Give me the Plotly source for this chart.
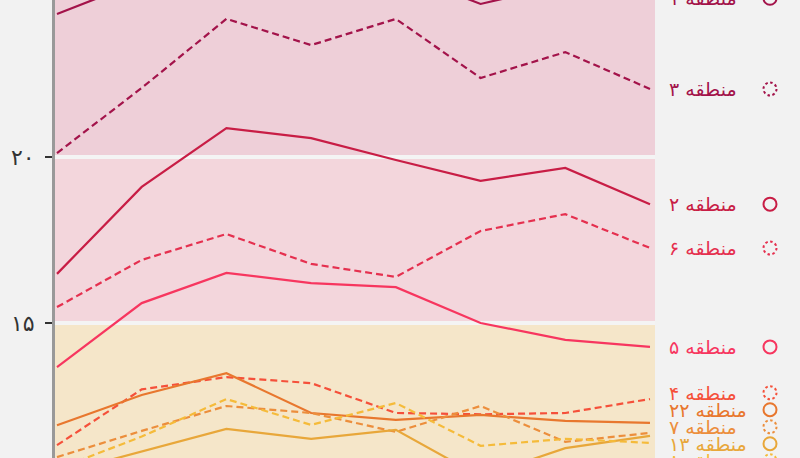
import plotly.graph_objects as go

# ---------------- data ----------------
periods = [0, 1, 2, 3, 4, 5, 6, 7]

region_1 = [24.31, 25.30, 26.20, 25.90, 25.60, 24.61, 25.20, 24.78]
region_3 = [20.12, 22.08, 24.16, 23.37, 24.16, 22.38, 23.16, 22.05]
region_2 = [16.48, 19.10, 20.87, 20.57, 19.91, 19.28, 19.67, 18.58]
region_6 = [15.48, 16.90, 17.68, 16.78, 16.39, 17.77, 18.28, 17.26]
region_5 = [13.67, 15.60, 16.51, 16.20, 16.08, 15.00, 14.49, 14.28]
region_4 = [11.32, 13.00, 13.37, 13.19, 12.29, 12.25, 12.29, 12.71]
region_22 = [11.92, 12.83, 13.49, 12.29, 12.08, 12.23, 12.05, 11.99]
region_7 = [10.96, 11.75, 12.50, 12.29, 11.72, 12.50, 11.42, 11.69]
region_13 = [10.45, 11.13, 11.81, 11.51, 11.78, 10.37, 11.23, 11.60]
region_8 = [10.60, 11.58, 12.71, 11.93, 12.59, 11.30, 11.51, 11.39]

labels = ["منطقه ۱", "منطقه ۳", "منطقه ۲", "منطقه ۶", "منطقه ۵",
          "منطقه ۴", "منطقه ۲۲", "منطقه ۷", "منطقه ۱۳", "منطقه ۸"]
values = [region_1, region_3, region_2, region_6, region_5,
          region_4, region_22, region_7, region_13, region_8]
dashed = [False, True, False, True, False, True, False, True, False, True]
colors = ["#a3134a", "#a3134a", "#c81d45", "#e5304f", "#f7365f",
          "#f5503a", "#e8772e", "#ec8e3c", "#e8a73a", "#f5bb3a"]

tick_vals = [10, 15, 20, 25]
tick_text = ["۱۰", "۱۵", "۲۰", "۲۵"]

band_edges = [0, 15, 20, 40]
band_colors = ["#f5e6c9", "#f3d6dc", "#eecfd8"]

# ---------------- layout constants ----------------
W, H = 800, 458
ML, MR = 55, 145
PW = W - ML - MR
Y_MIN, Y_MAX = 10.934, 24.729
X_MIN, X_MAX = -0.0236, 7.059
FONT = "DejaVu Sans"


def spread(vals, gap):
    order = sorted(range(len(vals)), key=lambda i: -vals[i])
    pos = [vals[i] for i in order]
    for _ in range(2000):
        moved = False
        for k in range(len(pos) - 1):
            d = pos[k] - pos[k + 1]
            if d < gap - 1e-9:
                s = (gap - d) / 2
                pos[k] += s
                pos[k + 1] -= s
                moved = True
        if not moved:
            break
    out = [0.0] * len(vals)
    for k, i in enumerate(order):
        out[i] = pos[k]
    return out


fig = go.Figure()

for name, ys, dsh, col in zip(labels, values, dashed, colors):
    fig.add_trace(go.Scatter(
        x=periods, y=ys, mode="lines", name=name,
        line=dict(color=col, width=2.2, dash="7px,4px" if dsh else "solid"),
        hoverinfo="skip", showlegend=False,
    ))

shapes = []
for i, c in enumerate(band_colors):
    shapes.append(dict(type="rect", xref="paper", yref="y", x0=0, x1=1,
                       y0=band_edges[i], y1=band_edges[i + 1],
                       fillcolor=c, line=dict(width=0), layer="below"))

px_per_unit = H / (Y_MAX - Y_MIN)
label_pos = spread([v[-1] for v in values], 17 / px_per_unit)

annotations = []
for name, lp, dsh, col in zip(labels, label_pos, dashed, colors):
    fy = (lp - Y_MIN) / (Y_MAX - Y_MIN)
    annotations.append(dict(
        text=name, xref="paper", yref="paper",
        x=(667 - ML) / PW, y=fy, xanchor="left", yanchor="middle",
        showarrow=False, font=dict(family=FONT, size=19, color=col),
    ))
    shapes.append(dict(
        type="circle", xref="paper", yref="paper",
        xsizemode="pixel", ysizemode="pixel",
        xanchor=(770 - ML) / PW, yanchor=fy,
        x0=-6.5, x1=6.5, y0=-6.5, y1=6.5,
        line=dict(color=col, width=2, dash="2.5px,2.5px" if dsh else "solid"),
        fillcolor="rgba(0,0,0,0)", layer="above",
    ))

fig.update_layout(
    width=W, height=H,
    margin=dict(l=ML, r=MR, t=0, b=0, pad=0),
    paper_bgcolor="#f2f2f2", plot_bgcolor="#f2f2f2",
    shapes=shapes, annotations=annotations,
    font=dict(family=FONT, color="#333333"),
    xaxis=dict(range=[X_MIN, X_MAX], visible=False, showgrid=False, zeroline=False),
    yaxis=dict(
        range=[Y_MIN, Y_MAX], tickvals=tick_vals, ticktext=tick_text,
        ticks="outside", ticklen=7, tickwidth=2, tickcolor="#333333",
        showline=True, linecolor="#999999", linewidth=3,
        showgrid=True, gridcolor="#f4f4f4", gridwidth=4, zeroline=False,
        tickfont=dict(family=FONT, size=22, color="#333333"),
        ticklabelstandoff=6,
    ),
)

fig.write_html(
    "out.html",
    config={"displayModeBar": False, "staticPlot": True},
    post_script="document.body.style.margin='0';document.body.style.background='#f2f2f2';",
)
